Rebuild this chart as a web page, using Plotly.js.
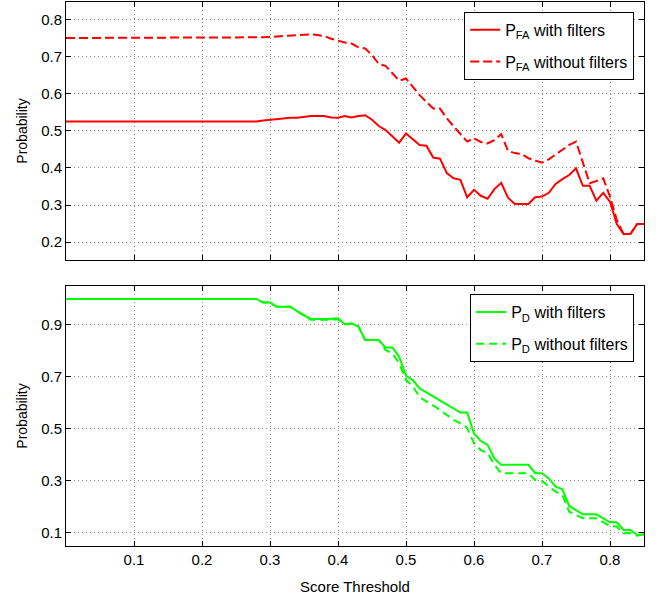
<!DOCTYPE html>
<html>
<head>
<meta charset="utf-8">
<script src="https://cdn.plot.ly/plotly-3.0.1.min.js"></script>
<style>html,body{margin:0;padding:0;background:#fff;}#chart{width:669px;height:603px;}</style>
</head>
<body>
<div id="chart"></div>
<script>
// P_FA with filters
const pfaFiltX = [0, 0.28, 0.29, 0.30, 0.31, 0.32, 0.33, 0.34, 0.35, 0.36, 0.37, 0.38, 0.39, 0.40, 0.41, 0.42, 0.43, 0.44, 0.45, 0.46, 0.47, 0.48, 0.49, 0.50, 0.51, 0.52, 0.53, 0.54, 0.55, 0.56, 0.57, 0.58, 0.59, 0.60, 0.61, 0.62, 0.63, 0.64, 0.65, 0.66, 0.67, 0.68, 0.69, 0.70, 0.71, 0.72, 0.73, 0.74, 0.75, 0.76, 0.77, 0.78, 0.79, 0.80, 0.81, 0.82, 0.83, 0.84, 0.85];
const pfaFiltY = [0.525, 0.525, 0.528, 0.530, 0.533, 0.535, 0.535, 0.535, 0.538, 0.540, 0.540, 0.540, 0.536, 0.535, 0.540, 0.536, 0.540, 0.542, 0.530, 0.513, 0.502, 0.485, 0.468, 0.493, 0.478, 0.462, 0.460, 0.428, 0.425, 0.386, 0.372, 0.368, 0.321, 0.341, 0.325, 0.317, 0.343, 0.360, 0.320, 0.303, 0.303, 0.303, 0.321, 0.323, 0.333, 0.357, 0.370, 0.381, 0.399, 0.352, 0.352, 0.312, 0.333, 0.309, 0.249, 0.222, 0.222, 0.249, 0.249];
// P_FA without filters
const pfaNoFiltX = [0, 0.28, 0.29, 0.30, 0.31, 0.32, 0.33, 0.34, 0.35, 0.36, 0.37, 0.38, 0.39, 0.40, 0.41, 0.42, 0.43, 0.44, 0.45, 0.46, 0.47, 0.48, 0.49, 0.50, 0.51, 0.52, 0.53, 0.54, 0.55, 0.56, 0.57, 0.58, 0.59, 0.60, 0.61, 0.62, 0.63, 0.64, 0.65, 0.66, 0.67, 0.68, 0.69, 0.70, 0.71, 0.72, 0.73, 0.74, 0.75, 0.76, 0.77, 0.78, 0.79, 0.80, 0.81, 0.82, 0.83, 0.84, 0.85];
const pfaNoFiltY = [0.750, 0.750, 0.752, 0.753, 0.754, 0.755, 0.756, 0.757, 0.759, 0.760, 0.758, 0.755, 0.748, 0.742, 0.738, 0.735, 0.725, 0.722, 0.704, 0.680, 0.675, 0.655, 0.635, 0.641, 0.618, 0.596, 0.578, 0.560, 0.560, 0.534, 0.512, 0.490, 0.471, 0.480, 0.470, 0.466, 0.475, 0.491, 0.446, 0.440, 0.438, 0.426, 0.420, 0.414, 0.423, 0.436, 0.448, 0.462, 0.471, 0.413, 0.359, 0.365, 0.372, 0.323, 0.260, 0.222, 0.222, 0.249, 0.249];
// P_D with filters
const pdFiltX = [0, 0.28, 0.29, 0.30, 0.31, 0.33, 0.345, 0.36, 0.385, 0.40, 0.41, 0.42, 0.43, 0.44, 0.46, 0.47, 0.48, 0.49, 0.50, 0.51, 0.52, 0.58, 0.59, 0.60, 0.61, 0.62, 0.63, 0.64, 0.68, 0.69, 0.70, 0.71, 0.72, 0.73, 0.74, 0.76, 0.78, 0.80, 0.81, 0.82, 0.83, 0.84, 0.85];
const pdFiltY = [1.0, 1.0, 0.986, 0.986, 0.970, 0.970, 0.945, 0.923, 0.923, 0.926, 0.903, 0.906, 0.894, 0.842, 0.842, 0.813, 0.813, 0.778, 0.704, 0.688, 0.656, 0.563, 0.563, 0.483, 0.454, 0.439, 0.387, 0.362, 0.362, 0.330, 0.330, 0.310, 0.278, 0.268, 0.204, 0.172, 0.172, 0.141, 0.141, 0.112, 0.112, 0.092, 0.095];
// P_D without filters
const pdNoFiltX = [0, 0.28, 0.29, 0.30, 0.31, 0.33, 0.345, 0.36, 0.385, 0.40, 0.41, 0.42, 0.43, 0.44, 0.46, 0.47, 0.48, 0.49, 0.50, 0.51, 0.52, 0.545, 0.57, 0.585, 0.59, 0.60, 0.61, 0.62, 0.63, 0.64, 0.68, 0.69, 0.70, 0.72, 0.73, 0.74, 0.76, 0.78, 0.80, 0.81, 0.82, 0.83, 0.84, 0.85];
const pdNoFiltY = [1.0, 1.0, 0.986, 0.986, 0.970, 0.970, 0.945, 0.920, 0.920, 0.922, 0.903, 0.906, 0.894, 0.842, 0.842, 0.804, 0.790, 0.753, 0.688, 0.665, 0.622, 0.582, 0.535, 0.515, 0.503, 0.445, 0.419, 0.407, 0.362, 0.330, 0.330, 0.304, 0.300, 0.259, 0.246, 0.182, 0.157, 0.157, 0.127, 0.125, 0.099, 0.100, 0.090, 0.095];

const xTicks = [0.1, 0.2, 0.3, 0.4, 0.5, 0.6, 0.7, 0.8];
const yTicksTop = [0.2, 0.3, 0.4, 0.5, 0.6, 0.7, 0.8];
const yTicksBottom = [0.1, 0.3, 0.5, 0.7, 0.9];
const names = ['P<sub>FA</sub> with filters', 'P<sub>FA</sub> without filters', 'P<sub>D</sub> with filters', 'P<sub>D</sub> without filters'];

const FONT = 'Liberation Sans, Arial, Helvetica, sans-serif';

const traces = [
  {x: pfaFiltX, y: pfaFiltY, name: names[0], legendgroup: 'a', mode: 'lines', line: {color: '#ff0000', width: 2}, xaxis: 'x', yaxis: 'y', legend: 'legend'},
  {x: pfaNoFiltX, y: pfaNoFiltY, name: names[1], legendgroup: 'b', mode: 'lines', line: {color: '#ff0000', width: 2, dash: '9px,4px'}, xaxis: 'x', yaxis: 'y', legend: 'legend'},
  {x: pdFiltX, y: pdFiltY, name: names[2], legendgroup: 'c', mode: 'lines', line: {color: '#00ff00', width: 2}, xaxis: 'x2', yaxis: 'y2', legend: 'legend2'},
  {x: pdNoFiltX, y: pdNoFiltY, name: names[3], legendgroup: 'd', mode: 'lines', line: {color: '#00ff00', width: 2, dash: '8px,5px'}, xaxis: 'x2', yaxis: 'y2', legend: 'legend2'}
];

const axisCommon = {
  showline: true, linecolor: '#000', linewidth: 1, mirror: 'ticks',
  ticks: 'inside', ticklen: 5, tickcolor: '#000', tickwidth: 1,
  showgrid: true, gridcolor: '#888', griddash: '1px,3px', gridwidth: 1,
  zeroline: false, tickfont: {family: FONT, size: 15, color: '#000'}
};

const legendCommon = {xanchor: 'right', yanchor: 'top', bgcolor: '#fff', bordercolor: '#000', borderwidth: 1,
  tracegroupgap: 8, font: {family: FONT, size: 16, color: '#000'}};

const layout = {
  width: 669, height: 603,
  margin: {l: 66, r: 25, t: 2, b: 57},
  paper_bgcolor: '#fff', plot_bgcolor: '#fff',
  font: {family: FONT, color: '#000'},
  xaxis: Object.assign({}, axisCommon, {domain: [0, 1], range: [0, 0.85], tickvals: xTicks, showticklabels: false, anchor: 'y'}),
  yaxis: Object.assign({}, axisCommon, {domain: [0.5257, 1], range: [0.152, 0.847], tickvals: yTicksTop, tickformat: '.1f', anchor: 'x',
    title: {text: 'Probability', font: {family: FONT, size: 14, color: '#000'}, standoff: 10}}),
  xaxis2: Object.assign({}, axisCommon, {domain: [0, 1], range: [0, 0.85], tickvals: xTicks, tickformat: '.1f', anchor: 'y2',
    title: {text: 'Score Threshold', font: {family: FONT, size: 15, color: '#000'}, standoff: 14}}),
  yaxis2: Object.assign({}, axisCommon, {domain: [0, 0.478], range: [0.05, 1.05], tickvals: yTicksBottom, tickformat: '.1f', anchor: 'x2',
    title: {text: 'Probability', font: {family: FONT, size: 14, color: '#000'}, standoff: 10}}),
  legend: Object.assign({}, legendCommon, {x: 0.983, y: 0.982}),
  legend2: Object.assign({}, legendCommon, {x: 0.983, y: 0.463}),
  showlegend: true
};

Plotly.newPlot('chart', traces, layout, {staticPlot: true, displayModeBar: false});
</script>
</body>
</html>
